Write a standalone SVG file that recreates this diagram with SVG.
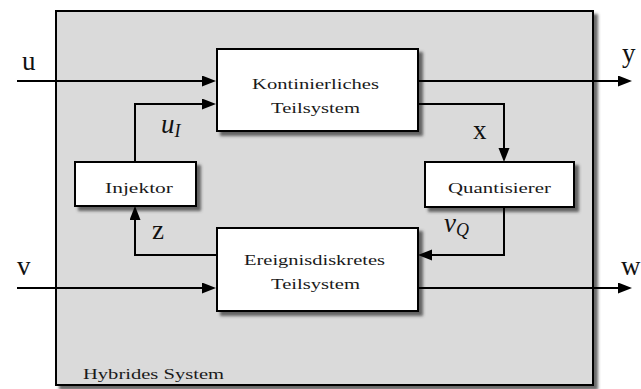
<svg xmlns="http://www.w3.org/2000/svg" width="641" height="389" viewBox="0 0 641 389">
<style>
.box{fill:#fff;stroke:#000;stroke-width:2;filter:url(#sh)}
.t{font-family:"Liberation Serif","Times New Roman",serif;font-size:15px;fill:#1a1a1a}
.lbl{font-family:"Liberation Serif","Times New Roman",serif;font-size:27px;fill:#111}
.it{font-style:italic}
.c{fill:none;stroke:#000;stroke-width:2;marker-end:url(#ah)}
</style>
<defs>
<filter id="sh" x="-10%" y="-10%" width="130%" height="130%">
<feDropShadow dx="4" dy="4" stdDeviation="1.5" flood-color="#444" flood-opacity="0.8"/>
</filter>
<marker id="ah" markerUnits="userSpaceOnUse" markerWidth="16" markerHeight="12" refX="6" refY="5.5" orient="auto">
<path d="M0,0 L14,5.5 L0,11 z" fill="#000"/>
</marker>
</defs>
<g id="system">
<rect x="56" y="11" width="537" height="374" fill="#dadada" stroke="#000" stroke-width="2" filter="url(#sh)"/>
<text class="t" x="83" y="379" textLength="141" lengthAdjust="spacingAndGlyphs">Hybrides System</text>
</g>
<g id="kontinuierlich">
<rect class="box" x="217" y="49" width="201" height="82"/>
<text class="t" x="252" y="89" textLength="127" lengthAdjust="spacingAndGlyphs">Kontinierliches</text>
<text class="t" x="271" y="113" textLength="89" lengthAdjust="spacingAndGlyphs">Teilsystem</text>
</g>
<g id="injektor">
<rect class="box" x="75" y="162" width="121" height="44"/>
<text class="t" x="105" y="193" textLength="68" lengthAdjust="spacingAndGlyphs">Injektor</text>
</g>
<g id="quantisierer">
<rect class="box" x="425" y="162" width="149" height="45"/>
<text class="t" x="448" y="193" textLength="103" lengthAdjust="spacingAndGlyphs">Quantisierer</text>
</g>
<g id="ereignisdiskret">
<rect class="box" x="217" y="228" width="201" height="83"/>
<text class="t" x="244" y="265" textLength="141" lengthAdjust="spacingAndGlyphs">Ereignisdiskretes</text>
<text class="t" x="271" y="289" textLength="89" lengthAdjust="spacingAndGlyphs">Teilsystem</text>
</g>
<g id="connectors">
<path class="c" d="M17,81 H208"/>
<path class="c" d="M135,162 V104 H208"/>
<path class="c" d="M418,81 H624"/>
<path class="c" d="M418,104 H504 V154"/>
<path class="c" d="M504,207 V255 H426"/>
<path class="c" d="M217,255 H135 V214"/>
<path class="c" d="M17,288 H208"/>
<path class="c" d="M418,288 H624"/>
</g>
<g id="labels">
<text class="lbl" x="22" y="70">u</text>
<text class="lbl" x="622" y="62">y</text>
<text class="lbl" x="473" y="139">x</text>
<text class="lbl" x="17" y="275">v</text>
<text class="lbl" x="621" y="275">w</text>
<text class="lbl" x="152" y="239">z</text>
<text class="lbl it" x="161" y="133">u<tspan font-size="18" dy="4">I</tspan></text>
<text class="lbl it" x="444" y="232">v<tspan font-size="18" dy="4">Q</tspan></text>
</g>
</svg>
